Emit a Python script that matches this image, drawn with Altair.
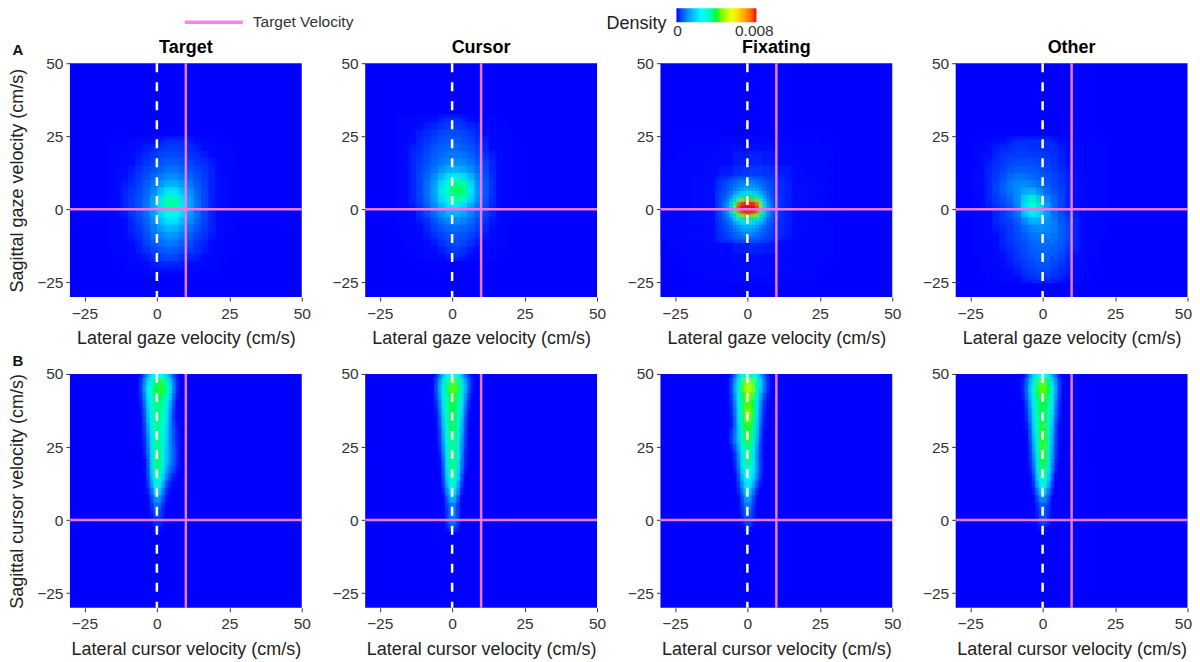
import altair as alt
import pandas as pd

HEADERS = ["Target", "Cursor", "Fixating", "Other"]
DOMAIN_MIN, DOMAIN_MAX = -30, 50
TICKS = [-25, 0, 25, 50]
TARGET_X, TARGET_Y = 10, 0
COLOR_STOPS = [0, 0.0002, 0.0025, 0.0041, 0.0057, 0.008]
COLOR_RANGE = ["#0000ff", "#000cff", "#00ffff", "#00ff00", "#ffff00", "#ff0000"]

# density values in units of 0.0001; rows run from high y to low y
A_TARGET = dict(x0=-15, y0=22.5, step=2.5, rows=[
    [1,1,1,2,2,2,2,3,3,3,3,2,2,1,1,1,0],
    [1,1,2,2,2,3,3,4,4,4,3,3,2,2,1,1,1],
    [1,1,2,2,3,3,4,5,5,5,4,3,3,2,2,1,1],
    [1,2,2,2,3,4,5,6,7,6,5,4,3,3,2,1,1],
    [1,2,2,3,4,5,6,8,9,8,6,5,4,3,2,2,1],
    [1,2,2,3,4,6,8,11,12,11,8,6,4,3,2,2,1],
    [1,2,3,3,5,7,10,15,17,15,11,7,5,3,2,2,1],
    [1,2,3,4,5,8,13,22,27,21,14,8,5,3,2,2,1],
    [1,2,3,4,6,9,16,30,38,27,16,9,5,3,2,2,1],
    [1,2,3,4,6,9,15,27,31,25,15,9,5,3,2,2,1],
    [1,2,2,4,5,8,13,21,24,20,13,8,5,3,2,1,1],
    [1,1,2,3,4,7,11,16,18,15,10,7,4,3,2,1,1],
    [1,1,2,3,4,6,9,12,13,11,8,5,4,3,2,1,1],
    [1,1,2,2,3,5,7,9,10,8,6,4,3,2,2,1,0],
    [0,1,1,2,3,4,5,7,7,6,5,3,3,2,1,1,0],
    [0,1,1,2,2,3,4,5,5,4,3,3,2,2,1,1,0],
    [0,0,1,1,2,2,3,3,3,3,2,2,2,1,1,0,0],
    [0,0,1,1,1,2,2,2,2,2,2,1,1,1,1,0,0],
])
A_CURSOR = dict(x0=-17.5, y0=30, step=2.5, rows=[
    [1,1,1,2,2,2,3,3,3,2,2,1,1,1,0,0],
    [1,1,2,2,3,3,4,4,4,3,3,2,1,1,1,0],
    [1,1,2,3,3,4,5,5,5,4,3,2,2,1,1,0],
    [1,2,2,3,4,5,6,6,6,5,4,3,2,1,1,1],
    [1,2,3,3,5,6,7,8,7,6,5,3,2,2,1,1],
    [1,2,3,4,5,7,8,9,9,8,6,4,3,2,1,1],
    [1,2,3,4,6,8,10,11,11,10,7,5,3,2,1,1],
    [1,2,3,5,7,10,14,17,16,13,9,6,3,2,1,1],
    [1,2,3,5,8,13,20,27,29,21,12,6,4,2,1,1],
    [1,2,3,5,9,15,26,36,40,28,14,7,4,2,1,1],
    [1,2,3,5,9,15,26,35,37,27,14,7,4,2,1,1],
    [1,2,3,4,8,13,20,26,25,18,11,6,3,2,1,1],
    [1,1,2,4,6,10,14,17,16,12,8,5,3,2,1,1],
    [1,1,2,3,4,7,10,12,11,9,6,4,3,2,1,1],
    [1,1,2,2,3,5,7,8,8,7,5,3,2,1,1,0],
    [0,1,1,2,3,4,5,6,6,5,4,3,2,1,1,0],
    [0,1,1,2,2,3,4,5,5,4,3,2,2,1,1,0],
    [0,0,1,1,2,2,3,4,4,3,2,2,1,1,0,0],
    [0,0,1,1,1,2,2,3,3,2,2,1,1,1,0,0],
])
A_FIX_HALO = dict(x0=-25, y0=20, step=5, rows=[
    [0,1,1,1,2,2,2,2,1,1,1],
    [1,1,1,2,2,3,3,2,2,1,1],
    [1,1,2,2,3,4,4,3,2,2,1],
    [1,1,2,2,3,4,4,3,2,2,1],
    [1,1,2,2,3,4,4,3,2,2,1],
    [1,1,2,2,3,4,4,3,2,1,1],
    [1,1,1,2,2,3,3,2,2,1,1],
    [0,1,1,1,2,2,2,2,1,1,1],
    [0,0,1,1,1,2,2,1,1,1,0],
])
A_FIX_CORE = dict(x0=-10, y0=10, step=1.25, rows=[
    [3,4,4,5,6,7,8,9,9,9,8,7,6,5,4,4,3,3],
    [3,4,5,6,7,8,10,10,11,11,10,8,7,6,5,4,3,3],
    [3,4,5,6,8,9,11,13,14,13,11,10,8,6,5,4,3,3],
    [4,4,5,7,9,12,15,17,18,18,16,13,10,7,5,4,3,3],
    [4,5,6,8,12,17,21,25,26,26,23,18,14,9,6,4,3,3],
    [4,5,7,10,16,24,33,38,41,40,35,28,18,11,7,5,4,3],
    [4,5,8,14,24,38,56,66,70,70,62,46,26,14,8,5,4,3],
    [4,6,10,16,30,50,80,90,95,95,85,60,32,16,10,6,4,3],
    [4,6,10,16,30,50,78,88,92,90,82,60,32,16,10,6,4,3],
    [4,5,9,13,24,38,54,64,68,66,58,42,26,14,8,5,4,3],
    [4,5,7,10,17,25,33,38,39,39,34,26,18,11,7,5,4,3],
    [4,4,6,8,12,18,22,25,26,26,23,18,14,9,6,4,3,3],
    [3,4,5,7,9,13,16,18,19,18,16,14,10,7,5,4,3,3],
    [3,4,5,6,8,10,13,15,15,15,13,10,8,6,5,4,3,3],
    [3,4,4,5,7,8,10,12,12,12,10,8,7,5,4,4,3,3],
    [3,3,4,5,6,7,8,9,9,9,8,7,6,5,4,3,3,3],
    [3,3,4,4,5,6,7,7,8,7,7,6,5,4,4,3,3,2],
])
A_OTHER = dict(x0=-22.5, y0=22.5, step=2.5, rows=[
    [1,1,2,2,2,3,3,3,3,3,3,2,2,1,1,1,1,1],
    [1,2,2,3,3,3,4,3,3,3,3,3,2,2,1,1,1,1],
    [1,2,2,3,4,4,4,4,4,4,3,3,2,2,1,1,1,1],
    [1,2,3,3,4,5,5,5,5,4,4,3,2,2,1,1,1,1],
    [2,2,3,4,5,6,7,6,6,5,4,3,3,2,2,1,1,1],
    [2,2,3,4,6,9,9,8,7,6,5,4,3,2,2,1,1,1],
    [2,2,3,5,7,10,11,11,9,7,5,4,3,2,2,1,1,1],
    [1,2,3,4,6,8,11,18,15,9,6,5,3,2,2,1,1,1],
    [1,2,3,4,5,7,13,29,33,14,8,5,3,2,2,1,1,1],
    [1,2,2,3,4,6,10,25,28,15,8,5,3,2,2,1,1,1],
    [1,1,2,3,4,5,8,15,18,13,9,6,4,3,2,1,1,1],
    [1,1,2,3,3,4,6,9,12,11,10,7,5,3,2,1,1,1],
    [1,1,2,2,3,4,5,7,9,9,9,7,5,3,2,1,1,1],
    [1,1,2,2,3,4,5,6,8,8,8,7,5,3,2,1,1,0],
    [1,1,1,2,3,3,4,5,7,7,7,6,4,3,2,1,1,0],
    [0,1,1,2,2,3,4,5,6,7,6,5,4,2,2,1,1,0],
    [0,1,1,2,2,3,3,4,5,6,5,4,3,2,2,1,0,0],
    [0,1,1,1,2,2,3,4,4,5,4,3,3,2,1,1,0,0],
    [0,0,1,1,2,2,2,3,3,4,3,3,2,2,1,1,0,0],
])
B_TARGET = dict(x0=-7.5, y0=48.75, xstep=1.25, ystep=2.5, rows=[
    [0,1,3,10,18,24,26,26,22,16,8,3,1,0],
    [0,1,5,16,26,35,40,42,38,27,14,4,1,0],
    [0,1,4,14,25,34,38,40,35,24,11,3,1,0],
    [0,1,3,12,24,33,37,36,30,20,8,2,1,0],
    [0,0,2,10,22,32,37,35,28,16,6,2,1,0],
    [0,0,2,8,20,31,37,34,26,14,5,2,0,0],
    [0,0,1,7,18,30,36,33,24,13,5,2,1,0],
    [0,0,1,5,16,29,36,32,23,13,6,3,1,0],
    [0,0,1,4,14,28,36,31,22,12,6,3,1,0],
    [0,0,1,3,12,27,37,31,21,12,7,3,1,0],
    [0,0,0,3,11,27,38,31,20,12,8,4,1,0],
    [0,0,0,2,9,26,39,31,20,12,8,4,1,0],
    [0,0,0,2,8,25,38,30,18,10,7,3,1,0],
    [0,0,0,1,7,24,36,27,14,7,4,2,0,0],
    [0,0,0,1,5,20,30,22,9,4,2,1,0,0],
    [0,0,0,0,3,14,24,15,5,2,1,0,0,0],
    [0,0,0,0,2,8,16,9,3,1,0,0,0,0],
    [0,0,0,0,1,5,10,5,2,0,0,0,0,0],
    [0,0,0,0,1,3,7,3,1,0,0,0,0,0],
    [0,0,0,0,0,2,4,3,1,0,0,0,0,0],
    [0,0,0,0,0,1,3,2,0,0,0,0,0,0],
])
B_CURSOR = dict(x0=-7.5, y0=48.75, xstep=1.25, ystep=2.5, rows=[
    [0,1,4,12,20,25,27,26,20,12,5,2,1,0],
    [0,2,7,18,29,39,45,42,32,20,8,3,1,0],
    [0,2,6,16,27,37,42,38,30,17,6,2,1,0],
    [0,1,4,14,26,36,40,37,27,14,4,1,0,0],
    [0,1,3,12,25,36,40,36,25,12,3,1,0,0],
    [0,0,2,10,23,35,39,35,23,10,2,1,0,0],
    [0,0,2,8,22,34,39,34,21,8,2,0,0,0],
    [0,0,1,6,20,33,38,33,19,7,1,0,0,0],
    [0,0,1,5,18,32,38,32,18,6,1,0,0,0],
    [0,0,1,4,16,30,36,30,16,5,1,0,0,0],
    [0,0,0,3,14,29,37,30,15,4,1,0,0,0],
    [0,0,0,2,12,28,38,30,14,3,0,0,0,0],
    [0,0,0,2,10,27,38,29,12,3,0,0,0,0],
    [0,0,0,1,8,25,36,27,10,2,0,0,0,0],
    [0,0,0,1,6,22,32,22,7,1,0,0,0,0],
    [0,0,0,0,4,17,27,17,4,1,0,0,0,0],
    [0,0,0,0,2,11,20,11,2,0,0,0,0,0],
    [0,0,0,0,1,6,12,6,1,0,0,0,0,0],
    [0,0,0,0,1,4,8,4,1,0,0,0,0,0],
    [0,0,0,0,1,5,12,6,1,0,0,0,0,0],
    [0,0,0,0,0,3,6,3,0,0,0,0,0,0],
])
B_FIXATING = dict(x0=-7.5, y0=48.75, xstep=1.25, ystep=2.5, rows=[
    [0,1,4,12,22,30,34,33,26,18,9,4,1,0],
    [0,2,7,18,31,44,52,50,38,24,12,5,2,0],
    [0,2,6,16,29,41,47,45,33,19,8,3,1,0],
    [0,1,4,14,27,38,42,40,28,14,5,2,1,0],
    [0,1,3,12,26,39,46,41,27,12,4,1,0,0],
    [0,1,3,11,25,39,47,42,26,11,3,1,0,0],
    [0,1,2,10,24,38,43,38,23,10,3,1,0,0],
    [0,1,3,9,22,36,40,36,21,8,2,0,0,0],
    [0,1,6,11,21,35,42,36,20,7,2,0,0,0],
    [0,0,3,10,19,32,37,31,17,6,1,0,0,0],
    [0,0,1,5,15,29,36,30,15,5,1,0,0,0],
    [0,0,1,4,13,28,38,30,14,4,1,0,0,0],
    [0,0,0,3,11,25,34,28,15,6,2,0,0,0],
    [0,0,0,2,9,21,28,25,14,5,1,0,0,0],
    [0,0,0,1,6,17,25,20,9,3,1,0,0,0],
    [0,0,0,1,4,13,22,14,5,1,0,0,0,0],
    [0,0,0,0,2,9,16,9,2,0,0,0,0,0],
    [0,0,0,0,1,6,11,6,1,0,0,0,0,0],
    [0,0,0,0,1,4,8,4,1,0,0,0,0,0],
    [0,0,0,0,0,3,6,3,1,0,0,0,0,0],
    [0,0,0,0,0,2,4,2,0,0,0,0,0,0],
])
B_OTHER = dict(x0=-7.5, y0=48.75, xstep=1.25, ystep=2.5, rows=[
    [1,2,7,15,22,27,27,24,18,10,4,1,0,0],
    [1,3,10,21,32,42,46,41,30,18,6,2,1,0],
    [1,3,9,20,31,40,43,39,29,16,5,2,1,0],
    [0,2,7,18,30,38,40,37,27,14,4,1,0,0],
    [0,1,5,15,28,37,40,36,26,12,3,1,0,0],
    [0,1,4,13,27,36,39,35,24,10,3,1,0,0],
    [0,1,3,11,25,35,39,34,22,8,2,1,0,0],
    [0,1,2,9,23,35,42,34,20,7,2,1,0,0],
    [0,0,2,8,21,34,41,33,19,6,2,0,0,0],
    [0,0,1,6,19,33,42,33,18,6,1,0,0,0],
    [0,0,1,5,17,32,42,32,17,5,1,0,0,0],
    [0,0,1,4,14,31,41,31,16,4,1,0,0,0],
    [0,0,0,3,11,29,39,30,14,3,0,0,0,0],
    [0,0,0,2,9,27,37,27,11,2,0,0,0,0],
    [0,0,0,1,6,22,31,22,7,1,0,0,0,0],
    [0,0,0,1,4,15,24,15,4,1,0,0,0,0],
    [0,0,0,0,2,9,14,9,2,0,0,0,0,0],
    [0,0,0,0,1,5,8,5,1,0,0,0,0,0],
    [0,0,0,0,1,3,5,3,1,0,0,0,0,0],
    [0,0,0,0,1,3,7,5,1,0,0,0,0,0],
    [0,0,0,0,0,2,3,2,0,0,0,0,0,0],
])
PANELS = [
    [[A_TARGET], [A_CURSOR], [A_FIX_HALO, A_FIX_CORE], [A_OTHER]],
    [[B_TARGET], [B_CURSOR], [B_FIXATING], [B_OTHER]],
]
ROW_LETTERS = ["A", "B"]
X_TITLES = ["Lateral gaze velocity (cm/s)", "Lateral cursor velocity (cm/s)"]
Y_TITLES = ["Sagittal gaze velocity (cm/s)", "Sagittal cursor velocity (cm/s)"]
LEGEND_LINE_LABEL = "Target Velocity"
LEGEND_COLOR_TITLE = "Density"
LEGEND_COLOR_MIN = "0"
LEGEND_COLOR_MAX = "0.008"

PINK = "#ee78e6"
FONT = "Liberation Sans"
W, H = 232, 234


def cells(grids, grow):
    out = []
    for g in grids:
        xs = g.get("xstep", g.get("step"))
        ys = g.get("ystep", g.get("step"))
        for i, row in enumerate(g["rows"]):
            for j, v in enumerate(row):
                if v <= 0:
                    continue
                cx = g["x0"] + j * xs
                cy = g["y0"] - i * ys
                out.append({
                    "x": cx - xs / 2 - grow * xs, "x2": cx + xs / 2 + grow * xs + 0.25,
                    "y": cy - ys / 2 - grow * ys - 0.25,
                    "y2": min(cy + ys / 2 + grow * ys, DOMAIN_MAX),
                    "d": v / 10000,
                })
    df = pd.DataFrame(out)
    return df.sort_values("d", kind="stable").reset_index(drop=True)


def text_layer(txt, x, y, **kw):
    return alt.Chart(pd.DataFrame({"t": [txt]})).mark_text(**kw).encode(
        text="t:N", x=alt.value(x), y=alt.value(y))


def panel(r, c):
    xscale = alt.Scale(domain=[DOMAIN_MIN, DOMAIN_MAX], nice=False, zero=False)
    yscale = alt.Scale(domain=[DOMAIN_MIN, DOMAIN_MAX], nice=False, zero=False)
    x_kw = dict(values=TICKS, title=X_TITLES[r], grid=False, domain=False,
                tickSize=4, tickColor="#333333", labelColor="#333333",
                labelFontSize=15.5, titleFontSize=18, titleFontWeight="normal",
                titleColor="#222222", titlePadding=8, labelPadding=5)
    if c == 3:
        x_kw.update(labelFlush=True, labelFlushOffset=4)
    else:
        x_kw.update(labelFlush=False)
    xaxis = alt.Axis(**x_kw)
    axis_kw = dict(values=TICKS, grid=False, domain=False, tickSize=4, tickColor="#333333",
                   labelColor="#333333", labelFontSize=15.5, labelPadding=3)
    if c == 0:
        axis_kw.update(title=Y_TITLES[r], titleFontSize=18, titleFontWeight="normal",
                       titleColor="#222222", titlePadding=10)
    else:
        axis_kw.update(title=None)
    yaxis = alt.Axis(**axis_kw)
    color_scale = alt.Scale(domain=COLOR_STOPS, range=COLOR_RANGE, clamp=True)
    legend = None
    if r == 0 and c == 2:
        legend = alt.Legend(
            title=None, orient="none", legendX=16, legendY=-55,
            direction="horizontal", gradientLength=80, gradientThickness=14,
            labelOpacity=0, labelFontSize=1, padding=0, offset=0,
        )
    heat = alt.Chart(cells(PANELS[r][c], 0)).mark_rect().encode(
        x=alt.X("x:Q", scale=xscale, axis=xaxis),
        x2="x2:Q",
        y=alt.Y("y:Q", scale=yscale, axis=yaxis),
        y2="y2:Q",
        color=alt.Color("d:Q", scale=color_scale, legend=legend),
    )
    soft = alt.Chart(cells(PANELS[r][c], 0.5)).mark_rect(opacity=0.35).encode(
        x=alt.X("x:Q", scale=xscale),
        x2="x2:Q",
        y=alt.Y("y:Q", scale=yscale),
        y2="y2:Q",
        color=alt.Color("d:Q", scale=color_scale, legend=None),
    )
    dash = alt.Chart(pd.DataFrame({"x": [0]})).mark_rule(
        color="white", strokeWidth=2.5, strokeDash=[9, 10]).encode(x="x:Q")
    vert = alt.Chart(pd.DataFrame({"x": [TARGET_X]})).mark_rule(
        strokeWidth=2.5, color=PINK).encode(x="x:Q")
    horiz = alt.Chart(pd.DataFrame({"y": [TARGET_Y]})).mark_rule(
        strokeWidth=2.5, color=PINK).encode(y="y:Q")
    layers = [heat, soft, dash, vert, horiz]
    if r == 0:
        layers.append(text_layer(HEADERS[c], W / 2, -15, fontSize=18, fontWeight="bold",
                                 color="#000000", align="center"))
    if c == 0:
        layers.append(text_layer(ROW_LETTERS[r], -52, -13, fontWeight="bold", fontSize=15,
                                 color="#111111", align="center"))
    if r == 0 and c == 0:
        layers.append(alt.Chart(pd.DataFrame({"t": [LEGEND_LINE_LABEL]})).mark_rule(
            strokeWidth=3.5, color="#ff80f0").encode(
            x=alt.value(115), x2=alt.value(173), y=alt.value(-41)))
        layers.append(text_layer(LEGEND_LINE_LABEL, 183, -41, fontSize=15.5, color="#333333",
                                 align="left"))
    if r == 0 and c == 2:
        layers.append(text_layer(LEGEND_COLOR_TITLE, -54, -39, fontSize=18, color="#222222",
                                 align="left"))
        layers.append(text_layer(LEGEND_COLOR_MIN, 17, -32, fontSize=15.5, color="#333333",
                                 align="center"))
        layers.append(text_layer(LEGEND_COLOR_MAX, 94, -32, fontSize=15.5, color="#333333",
                                 align="center"))
    return alt.layer(*layers).properties(width=W, height=H)


chart = alt.concat(*[panel(r, c) for r in range(2) for c in range(4)], columns=4,
                   spacing={"row": 77, "column": 63.5}, bounds="flush").configure(
    font=FONT, view=alt.ViewConfig(fill="#0000ff", stroke=None),
    padding={"left": 0, "top": 0, "right": 0, "bottom": 0},
).resolve_scale(color="independent")

chart.save("out.html", embed_options={"renderer": "svg", "actions": False})
